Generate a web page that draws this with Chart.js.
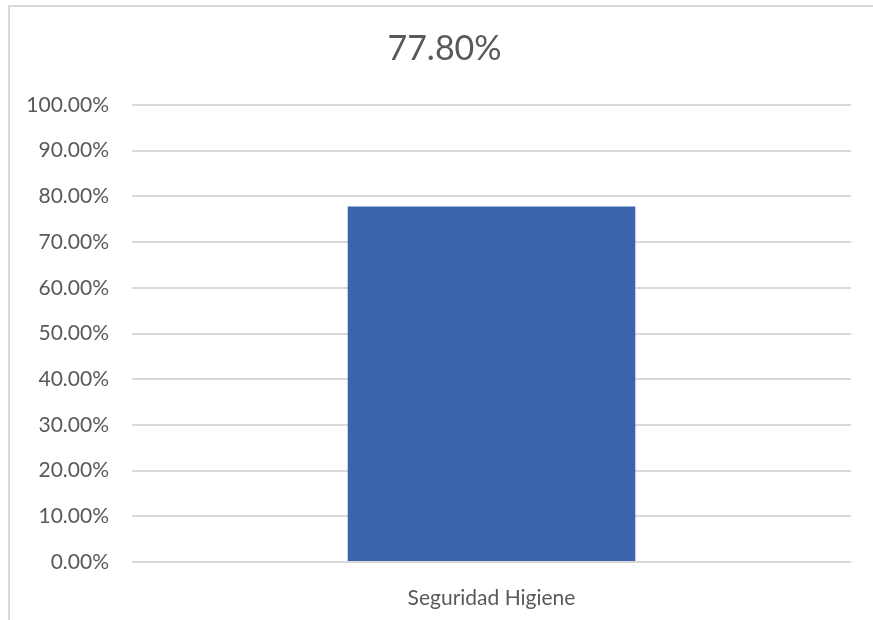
<!DOCTYPE html>
<html>
<head>
<meta charset="utf-8">
<script src="https://cdn.jsdelivr.net/npm/chart.js@4"></script>
<style>
  body { margin: 0; background: #fff; }
  .frame {
    position: absolute; left: 8px; top: 5px; width: 900px; height: 700px;
    border-left: 2px solid #d9d9d9; border-top: 2px solid #d9d9d9;
  }
  .wrap { position: absolute; left: 0; top: 0; width: 873px; height: 620px; }
</style>
</head>
<body>
<div class="frame"></div>
<div class="wrap"><canvas id="myChart"></canvas></div>
<script>
  const categories = ['Seguridad Higiene'];
  const values = [77.8];
  const titleText = '77.80%';

  const textColor = '#595959';
  const gridColor = '#d9d9d9';

  // nudge the title box so its centre sits a bit right of the canvas centre
  const titleShift = {
    id: 'titleShift',
    afterLayout(chart) {
      if (chart.titleBlock) chart.titleBlock.left = 38;
    }
  };

  function initChart () {
    const ctx = document.getElementById('myChart');
    return new Chart(ctx, {
      type: 'bar',
      data: {
        labels: categories,
        datasets: [{
          data: values,
          backgroundColor: '#3c64ac',
          barPercentage: 0.4,
          categoryPercentage: 1
        }]
      },
      options: {
        responsive: true,
        maintainAspectRatio: false,
        animation: false,
        layout: { padding: { left: 0, right: 22, top: 0, bottom: 0 } },
        plugins: {
          legend: { display: false },
          tooltip: { enabled: false },
          title: {
            display: true,
            text: titleText,
            color: textColor,
            font: { family: 'Lato', size: 34, weight: 'normal' },
            padding: { top: 29, bottom: 35.2 }
          }
        },
        scales: {
          x: {
            grid: { display: false },
            border: { display: false },
            ticks: { color: textColor, font: { family: 'Lato', size: 21 }, padding: 16 },
            afterFit: (scale) => { scale.height = 58; }
          },
          y: {
            min: 0,
            max: 100,
            ticks: {
              stepSize: 10,
              color: textColor,
              font: { family: 'Lato', size: 21 },
              padding: 23,
              callback: (v) => v.toFixed(2) + '%'
            },
            grid: { color: gridColor, lineWidth: 2, drawTicks: false },
            border: { display: false },
            afterFit: (scale) => { scale.width = 132; }
          }
        }
      },
      plugins: [titleShift]
    });
  }

  document.addEventListener('DOMContentLoaded', () => initChart());
</script>
</body>
</html>
